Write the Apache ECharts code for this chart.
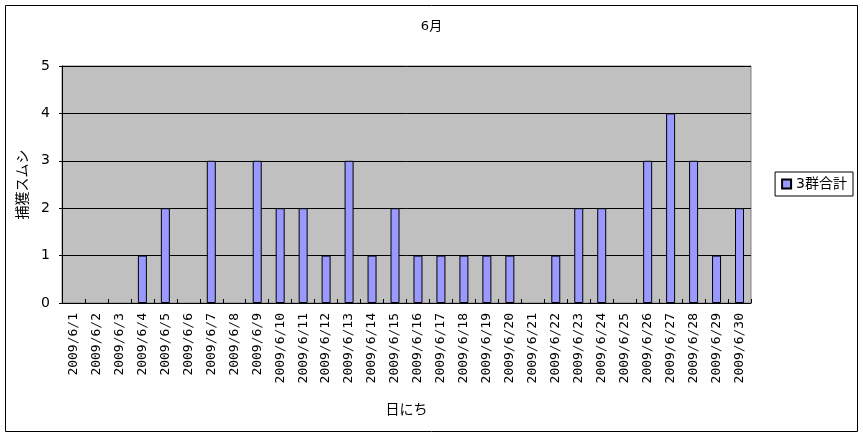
<!DOCTYPE html>
<html><head><meta charset="utf-8">
<script src="https://cdn.jsdelivr.net/npm/echarts@6/dist/echarts.min.js"></script>
<style>html,body{margin:0;padding:0;background:#fff}#c{width:863px;height:436px}</style>
</head><body><div id="c"></div>
<script>
const categories = ["2009/6/1","2009/6/2","2009/6/3","2009/6/4","2009/6/5","2009/6/6","2009/6/7","2009/6/8","2009/6/9","2009/6/10","2009/6/11","2009/6/12","2009/6/13","2009/6/14","2009/6/15","2009/6/16","2009/6/17","2009/6/18","2009/6/19","2009/6/20","2009/6/21","2009/6/22","2009/6/23","2009/6/24","2009/6/25","2009/6/26","2009/6/27","2009/6/28","2009/6/29","2009/6/30"];
const seriesName = "3群合計";
const values = [0,0,0,1,2,0,3,0,3,2,2,1,3,1,2,1,1,1,1,1,0,1,2,2,0,3,4,3,1,2];
const titleText = "6月";
const xName = "日にち";
const yName = "捕獲スムシ";

const font = '"DejaVu Sans", "Noto Sans CJK JP", sans-serif';
const chart = echarts.init(document.getElementById('c'), null, {renderer: 'canvas'});
chart.setOption({
  animation: false,
  textStyle: {fontFamily: font, color: '#000'},
  title: {text: titleText, left: 'center', top: 15, textStyle: {fontSize: 13, fontWeight: 'normal', color: '#000', fontFamily: font}},
  graphic: [{type: 'rect', shape: {x: 5.5, y: 5.5, width: 852, height: 426}, style: {fill: 'none', stroke: '#000', lineWidth: 1}, silent: true}],
  legend: {
    right: 10, top: 172, orient: 'vertical',
    itemWidth: 9, itemHeight: 9, itemGap: 0, padding: [5, 6, 5, 6],
    borderColor: '#000', borderWidth: 1,
    textStyle: {fontSize: 14, color: '#000', fontFamily: font},
    icon: 'rect'
  },
  grid: {left: 62, right: 112, top: 66, bottom: 133, show: true, backgroundColor: '#C0C0C0', borderColor: '#808080', borderWidth: 1},
  xAxis: {
    type: 'category', data: categories,
    name: xName, nameLocation: 'middle', nameGap: 100,
    nameTextStyle: {fontSize: 14, color: '#000'},
    axisLine: {lineStyle: {color: '#000', width: 1}},
    axisTick: {show: true, inside: true, length: 4, lineStyle: {color: '#000'}},
    axisLabel: {rotate: 90, interval: 0, fontSize: 13, color: '#000', margin: 10, fontFamily: '"DejaVu Sans Mono", "Liberation Mono", monospace'}
  },
  yAxis: {
    type: 'value', min: 0, max: 5, interval: 1,
    name: yName, nameLocation: 'middle', nameGap: 28,
    nameTextStyle: {fontSize: 14, color: '#000'},
    axisLine: {show: true, lineStyle: {color: '#000'}},
    axisTick: {show: true, length: 3, lineStyle: {color: '#000'}},
    axisLabel: {fontSize: 14, color: '#000', margin: 12},
    splitLine: {lineStyle: {color: '#000', width: 1}}
  },
  series: [{
    name: seriesName, type: 'bar', barWidth: 9,
    data: values.map(v => v === 0 ? {value: v, itemStyle: {borderWidth: 0}} : v),
    itemStyle: {color: '#9999FF', borderColor: '#000', borderWidth: 1}
  }]
});
</script></body></html>
